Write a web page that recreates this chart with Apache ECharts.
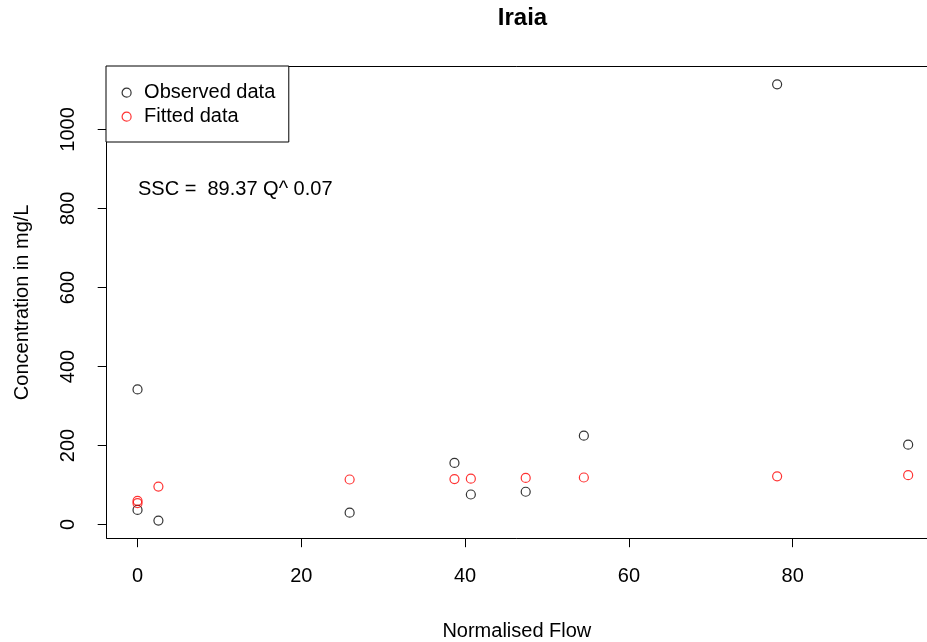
<!DOCTYPE html>
<html>
<head>
<meta charset="utf-8">
<script src="https://cdn.jsdelivr.net/npm/echarts@6/dist/echarts.min.js"></script>
<style>
html,body{margin:0;padding:0;background:#fff;}
#c{width:927px;height:642px;}
</style>
</head>
<body>
<div id="c"></div>
<script>
// Data
var flowX = [0, 0, 2.55, 25.9, 38.7, 40.7, 47.4, 54.5, 78.1, 94.1];
var observedY = [342, 37, 10, 30, 156, 76, 83, 225, 1114, 202];
var fittedY = [60, 54, 96, 114, 115, 116, 118, 119, 122, 125];
var xTicks = [0, 20, 40, 60, 80];
var yTicks = [0, 200, 400, 600, 800, 1000];
var titleText = 'Iraia';
var xName = 'Normalised Flow';
var yName = 'Concentration in mg/L';
var equation = 'SSC =  89.37 Q^ 0.07';

var FONT = '"Liberation Sans", Arial, Helvetica, sans-serif';
function pairs(xs, ys){ return xs.map(function(x,i){ return [x, ys[i]]; }); }
function plain(v){ return String(v); }

var chart = echarts.init(document.getElementById('c'), null, {renderer:'canvas'});
var boxLine = {show:true, onZero:false, lineStyle:{color:'#000', width:1}};
chart.setOption({
  animation:false,
  backgroundColor:'#fff',
  textStyle:{fontFamily:FONT},
  grid:{left:106.7, right:0, top:66.5, bottom:103.8, show:false, containLabel:false, outerBoundsMode:'none'},
  xAxis:[{
    type:'value', min:-3.764, max:96.40, position:'bottom',
    name:xName, nameLocation:'middle', nameGap:83,
    nameTextStyle:{fontSize:20, color:'#000', fontFamily:FONT},
    axisLine:boxLine,
    splitLine:{show:false},
    axisTick:{show:true, customValues:xTicks, length:9, lineStyle:{color:'#000', width:1}},
    axisLabel:{show:true, customValues:xTicks, margin:28, fontSize:20, color:'#000', fontFamily:FONT, formatter:plain}
  },{
    type:'value', min:-3.764, max:96.40, position:'top',
    axisLine:boxLine, axisTick:{show:false}, axisLabel:{show:false}, splitLine:{show:false}
  }],
  yAxis:{
    type:'value', min:-34.6, max:1159.2, position:'left',
    name:yName, nameLocation:'middle', nameGap:74, nameRotate:90,
    nameTextStyle:{fontSize:20, color:'#000', fontFamily:FONT},
    axisLine:boxLine,
    splitLine:{show:false},
    axisTick:{show:true, customValues:yTicks, length:9, lineStyle:{color:'#000', width:1}},
    axisLabel:{show:true, customValues:yTicks, rotate:90, margin:28, fontSize:20, color:'#000', fontFamily:FONT, formatter:plain}
  },
  legend:{
    orient:'vertical', left:106, top:66,
    backgroundColor:'#fff',
    borderColor:'#000', borderWidth:1,
    padding:[14.7, 13.5, 13.3, 15.5],
    itemGap:0, itemWidth:9, itemHeight:9,
    icon:'circle',
    textStyle:{fontSize:20, color:'#000', lineHeight:24, padding:[0,0,0,8], fontFamily:FONT},
    data:[
      {name:'Observed data', itemStyle:{color:'rgba(0,0,0,0)', borderColor:'#000', borderWidth:1.2}},
      {name:'Fitted data', itemStyle:{color:'rgba(0,0,0,0)', borderColor:'#ff0000', borderWidth:1.2}}
    ]
  },
  graphic:[
    {type:'text', x:522.5, y:18, style:{text:titleText, font:'bold 24px '+FONT, fill:'#000', textAlign:'center', textVerticalAlign:'middle'}},
    {type:'text', x:138, y:189, style:{text:equation, font:'20px '+FONT, fill:'#000', textAlign:'left', textVerticalAlign:'middle'}}
  ],
  series:[
    {name:'Observed data', type:'scatter', symbol:'circle', symbolSize:9, xAxisIndex:0,
     itemStyle:{color:'rgba(0,0,0,0)', borderColor:'#000', borderWidth:1.2},
     data:pairs(flowX, observedY)},
    {name:'Fitted data', type:'scatter', symbol:'circle', symbolSize:9, xAxisIndex:0,
     itemStyle:{color:'rgba(0,0,0,0)', borderColor:'#ff0000', borderWidth:1.2},
     data:pairs(flowX, fittedY)}
  ]
});
</script>
</body>
</html>
